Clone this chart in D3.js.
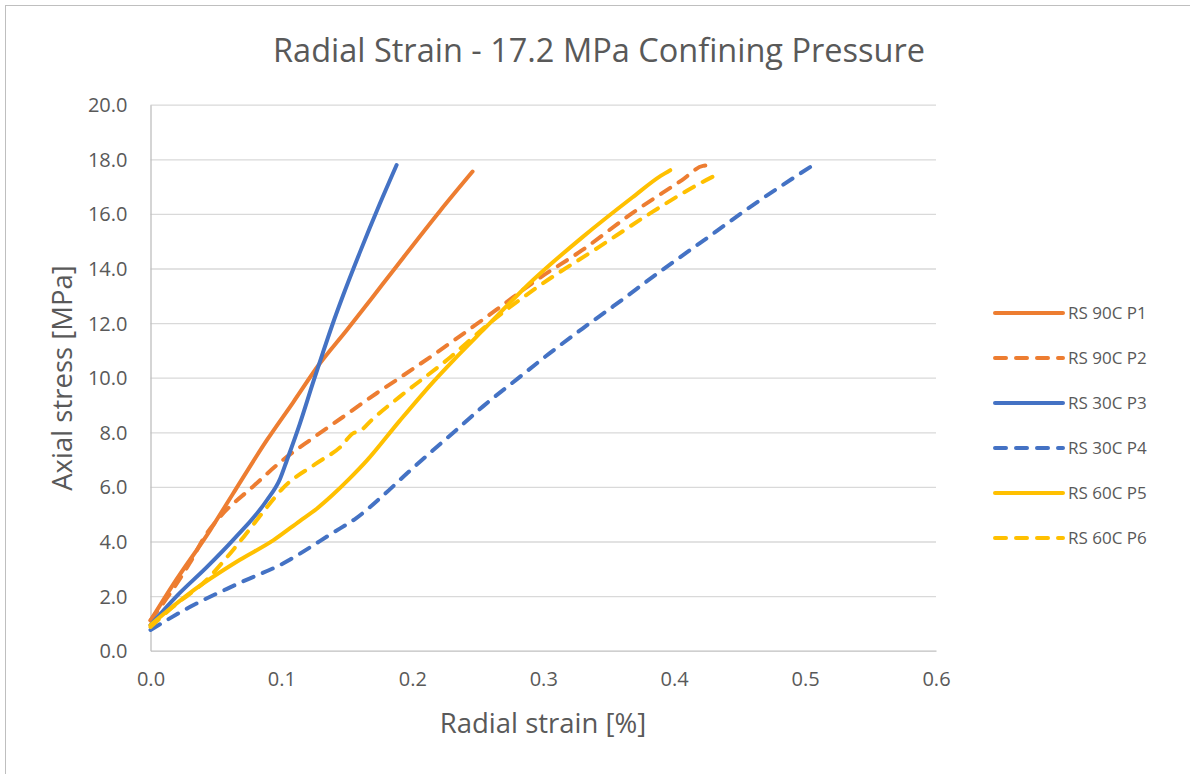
<!DOCTYPE html>
<html>
<head>
<meta charset="utf-8">
<script src="https://cdn.jsdelivr.net/npm/d3@7"></script>
<style>
  html, body { margin: 0; padding: 0; background: #fff; }
  svg { display: block; }
  text { font-family: "Open Sans", "Noto Sans", sans-serif; fill: #595959; }
</style>
</head>
<body>
<svg id="chart" width="1190" height="774"></svg>
<script>
// Radial strain [%] vs axial stress [MPa], one array pair per test
const seriesNames = ["RS 90C P1", "RS 90C P2", "RS 30C P3", "RS 30C P4", "RS 60C P5", "RS 60C P6"];

const p1Strain = [0.000, 0.017, 0.0455, 0.063, 0.089, 0.109, 0.129, 0.150, 0.168, 0.185, 0.221, 0.246];
const p1Stress = [1.10, 2.40, 4.41, 5.75, 7.72, 9.10, 10.50, 11.75, 12.85, 13.90, 16.10, 17.55];

const p2Strain = [0.000, 0.013, 0.030, 0.043, 0.053, 0.078, 0.101, 0.122, 0.147, 0.173, 0.188, 0.229, 0.267, 0.295, 0.330, 0.368, 0.406, 0.422, 0.429];
const p2Stress = [1.12, 1.96, 3.21, 4.30, 4.90, 6.00, 6.98, 7.72, 8.56, 9.44, 9.92, 11.27, 12.59, 13.58, 14.68, 16.03, 17.24, 17.76, 17.79];

const p3Strain = [0.000, 0.020, 0.043, 0.063, 0.089, 0.099, 0.104, 0.114, 0.124, 0.1317, 0.139, 0.147, 0.160, 0.175, 0.188];
const p3Stress = [0.94, 2.00, 3.06, 4.05, 5.52, 6.30, 6.95, 8.30, 9.80, 10.92, 11.95, 13.00, 14.60, 16.35, 17.79];

const p4Strain = [0.000, 0.030, 0.068, 0.106, 0.114, 0.139, 0.157, 0.178, 0.196, 0.216, 0.234, 0.254, 0.280, 0.305, 0.330, 0.353, 0.391, 0.429, 0.455, 0.481, 0.504];
const p4Stress = [0.76, 1.60, 2.48, 3.32, 3.55, 4.31, 4.85, 5.70, 6.50, 7.35, 8.10, 8.95, 9.95, 10.90, 11.80, 12.60, 13.95, 15.25, 16.15, 17.00, 17.72];

const p5Strain = [0.000, 0.030, 0.068, 0.094, 0.114, 0.127, 0.139, 0.152, 0.165, 0.190, 0.216, 0.231, 0.254, 0.292, 0.330, 0.368, 0.390, 0.397];
const p5Stress = [0.94, 2.11, 3.32, 4.05, 4.75, 5.20, 5.70, 6.30, 6.95, 8.40, 9.85, 10.62, 11.74, 13.57, 15.15, 16.60, 17.40, 17.60];

const p6Strain = [0.000, 0.017, 0.043, 0.058, 0.071, 0.089, 0.101, 0.127, 0.145, 0.155, 0.160, 0.170, 0.190, 0.229, 0.259, 0.292, 0.343, 0.381, 0.419, 0.436];
const p6Stress = [0.87, 1.60, 2.60, 3.40, 4.16, 5.26, 5.95, 6.87, 7.46, 7.97, 8.05, 8.50, 9.29, 10.75, 12.00, 13.20, 14.80, 16.00, 17.10, 17.52];

const xTicks = [0, 0.1, 0.2, 0.3, 0.4, 0.5, 0.6];
const yTicks = [0, 2, 4, 6, 8, 10, 12, 14, 16, 18, 20];

const strains = [p1Strain, p2Strain, p3Strain, p4Strain, p5Strain, p6Strain];
const stresses = [p1Stress, p2Stress, p3Stress, p4Stress, p5Stress, p6Stress];
const colors = ["#ED7D31", "#ED7D31", "#4472C4", "#4472C4", "#FFC000", "#FFC000"];
const dashed = [false, true, false, true, false, true];

const svg = d3.select("#chart");

// chart frame
svg.append("rect")
  .attr("x", 5.5).attr("y", 5.5)
  .attr("width", 1200).attr("height", 800)
  .attr("fill", "none").attr("stroke", "#bfbfbf").attr("stroke-width", 1);

const plot = { left: 150.5, right: 936, top: 104.7, bottom: 650.7 };
const x = d3.scaleLinear().domain([0, 0.6]).range([plot.left, plot.right]);
const y = d3.scaleLinear().domain([0, 20]).range([plot.bottom, plot.top]);

// horizontal gridlines
svg.append("g")
  .attr("transform", `translate(${plot.left},0)`)
  .call(d3.axisLeft(y).tickValues(yTicks.slice(1)).tickSize(-(plot.right - plot.left)).tickFormat(""))
  .call(g => g.select(".domain").remove())
  .call(g => g.selectAll("line").attr("stroke", "#d9d9d9").attr("stroke-width", 1.3));

// y axis
const yAxis = svg.append("g")
  .attr("transform", `translate(${plot.left},0)`)
  .call(d3.axisLeft(y).tickValues(yTicks).tickSize(0).tickPadding(23).tickFormat(d3.format(".1f")));
yAxis.select(".domain").attr("stroke", "#bfbfbf").attr("stroke-width", 1.3);
yAxis.selectAll("text").style("font-size", "20px").attr("fill", "#595959").attr("dy", "0.35em");

// x axis
const xAxis = svg.append("g")
  .attr("transform", `translate(0,${plot.bottom})`)
  .call(d3.axisBottom(x).tickValues(xTicks).tickSize(0).tickPadding(21).tickFormat(d3.format(".1f")));
xAxis.select(".domain").attr("stroke", "#bfbfbf").attr("stroke-width", 1.3);
xAxis.selectAll("text").style("font-size", "20px").attr("fill", "#595959");

// series lines
const line = d3.line()
  .x(d => x(d[0]))
  .y(d => y(d[1]))
  .curve(d3.curveMonotoneX);

seriesNames.forEach((name, i) => {
  const pts = strains[i].map((s, k) => [s, stresses[i][k]]);
  svg.append("path")
    .datum(pts)
    .attr("d", line)
    .attr("fill", "none")
    .attr("stroke", colors[i])
    .attr("stroke-width", 4)
    .attr("stroke-linecap", "round")
    .attr("stroke-linejoin", "round")
    .attr("stroke-dasharray", dashed[i] ? "11,10" : null);
});

// title and axis titles
svg.append("text")
  .attr("x", 599).attr("y", 62)
  .attr("text-anchor", "middle")
  .style("font-size", "32.5px")
  .text("Radial Strain - 17.2 MPa Confining Pressure");

svg.append("text")
  .attr("x", 543).attr("y", 733)
  .attr("text-anchor", "middle")
  .style("font-size", "27.5px")
  .text("Radial strain [%]");

svg.append("text")
  .attr("transform", "translate(72,378) rotate(-90)")
  .attr("text-anchor", "middle")
  .style("font-size", "27.5px")
  .text("Axial stress [MPa]");

// legend
const legend = svg.append("g");
seriesNames.forEach((name, i) => {
  const ly = 313 + i * 45;
  legend.append("line")
    .attr("x1", 995).attr("x2", 1063)
    .attr("y1", ly).attr("y2", ly)
    .attr("stroke", colors[i])
    .attr("stroke-width", 4)
    .attr("stroke-linecap", "round")
    .attr("stroke-dasharray", dashed[i] ? "11,10" : null);
  legend.append("text")
    .attr("x", 1068).attr("y", ly)
    .attr("dy", "0.35em")
    .style("font-size", "17px")
    .text(name);
});
</script>
</body>
</html>
